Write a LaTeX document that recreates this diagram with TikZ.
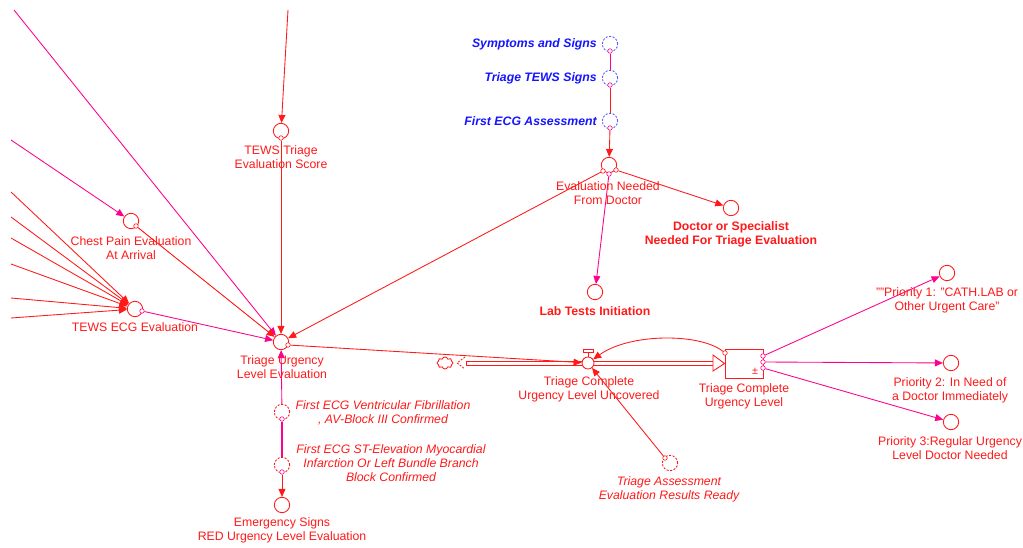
\documentclass[tikz,border=0pt]{standalone}
\usepackage{fontspec}
\setmainfont{Liberation Sans}
\usetikzlibrary{arrows.meta,shapes.symbols,calc}
\definecolor{vred}{RGB}{255,25,25}
\definecolor{vpink}{RGB}{255,0,140}
\definecolor{vblue}{RGB}{20,20,255}
\definecolor{vbluedash}{RGB}{90,90,255}

\begin{document}
\begin{tikzpicture}[x=0.75pt,y=-0.75pt,
  var/.style={circle,draw=vred,fill=white,minimum size=11.5pt,inner sep=0pt,line width=0.65pt},
  ghost/.style={var,dash pattern=on 1.6pt off 1.1pt},
  bghost/.style={ghost,draw=vbluedash},
  dot/.style={circle,draw=vred,fill=white,minimum size=3.4pt,inner sep=0pt,line width=0.45pt},
  pdot/.style={dot,draw=vpink},
  lbl/.style={text=vred,font=\fontsize{9.2}{10.5}\selectfont,align=center,inner sep=0pt},
  blbl/.style={lbl,font=\fontsize{9.2}{10.5}\selectfont\bfseries},
  ilbl/.style={lbl,font=\fontsize{9.2}{10.5}\selectfont\itshape},
  bluelbl/.style={lbl,text=vblue,font=\fontsize{9.2}{10.5}\selectfont\bfseries\itshape,anchor=east},
  tip/.style={-{Triangle[length=6pt,width=5.2pt]}},
  rlink/.style={draw=vred,line width=0.65pt,tip},
  plink/.style={draw=vpink,line width=0.65pt,tip},
  flowline/.style={draw=vred,line width=0.6pt},
]
\useasboundingbox (0,0) rectangle (1023,548);

% ---- variables ----
\node[var] (tews)  at (281,131) {};
\node[var] (chest) at (131,221) {};
\node[var] (ecg)   at (135,309) {};
\node[var] (urg)   at (281,342) {};
\node[var] (eval)  at (609,165) {};
\node[var] (doc)   at (731,208) {};
\node[var] (lab)   at (595,292) {};
\node[bghost] (symp) at (610,44) {};
\node[bghost] (tsig) at (610,78) {};
\node[bghost] (fecg) at (610,121) {};
\node[ghost] (vf)    at (282,412) {};
\node[ghost] (st)    at (282,465) {};
\node[var] (emerg)   at (282,505) {};
\node[ghost] (ready) at (670,463) {};
\node[var] (p1) at (947,273) {};
\node[var] (p2) at (951,363) {};
\node[var] (p3) at (951,422) {};

% ---- stock, valve and source cloud ----
\node[draw=vred,fill=white,minimum width=28.5pt,minimum height=21.75pt,inner sep=0pt,line width=0.65pt] (stock) at (744,363.5) {};
\node[text=vred,font=\fontsize{8}{8}\selectfont,inner sep=0pt] (pm) at (755,371) {±};
\node[cloud,cloud puffs=8,cloud ignores aspect,draw=vred,line width=0.65pt,minimum width=12pt,minimum height=9pt,inner sep=0pt] (src) at (445,363) {};
% flow pipe: two parallel lines from the cloud to the valve and on to the stock
\draw[flowline] (466,361) -- (583,361);
\draw[flowline] (466,365) -- (583,365);
\draw[flowline] (466,361) -- (466,365);
\draw[flowline] (593,361) -- (714,361);
\draw[flowline] (593,365) -- (714,365);
\node[circle,draw=vred,fill=white,minimum size=9pt,inner sep=0pt,line width=0.65pt] (valve) at (588,363) {};
\draw[vred,line width=0.65pt] (valve.north) -- (588,352);
\draw[vred,line width=0.65pt,fill=white] (583,349) rectangle (593,352);
\draw[vred,line width=0.65pt,fill=white] (713,355) -- (stock.west) -- (713,371) -- cycle;
\draw[vred,line width=0.6pt,dash pattern=on 1.5pt off 1pt] (465,357) -- (457,363) -- (465,369);

% ---- link start points ----
\node[dot]  (tewsO)  at (281,138) {};
\node[dot]  (chestO) at (136,226) {};
\node[pdot] (ecgO)   at (142,311) {};
\node[dot]  (urgO)   at (288,345) {};
\node[dot]  (evalL)  at (603,171) {};
\node[pdot] (evalB)  at (609,174) {};
\node[dot]  (evalR)  at (616,170) {};
\node[pdot] (sympO)  at (610,51) {};
\node[pdot] (tsigO)  at (610,85) {};
\node[pdot] (fecgO)  at (610,128) {};
\node[pdot] (vfO)    at (282,419) {};
\node[pdot] (stO)    at (282,472) {};
\node[dot]  (readyO) at (665,458) {};
\node[dot]  (sTL)    at (725,353) {};
\node[pdot] (sR1)    at (763,356) {};
\node[pdot] (sR2)    at (763,362) {};
\node[pdot] (sR3)    at (763,368) {};

% ---- incoming links from off the page ----
\coordinate (inTop) at (288,10);
\coordinate (inPA) at (14,10);
\coordinate (inPB) at (11,140);
\draw[rlink] (inTop) -- (tews);
\draw[plink] (inPA) -- (urg);
\draw[plink] (inPB) -- (chest);
\foreach \i/\y in {1/192,2/217,3/238,4/264,5/298,6/318}{
  \coordinate (e\i) at (11,\y);
  \draw[rlink] (e\i) -- (ecg);
}

% ---- links ----
\draw[rlink] (tewsO) -- (urg);
\draw[rlink] (chestO) -- (urg);
\draw[plink] (ecgO) -- (urg);
\draw[rlink] (evalL) -- (urg);
\draw[rlink] (urgO) -- (valve);
\draw[plink] (vf) -- (urg);
\draw[draw=vpink,line width=0.95pt] (vfO) -- (st);
\draw[rlink] (stO) -- (emerg);
\draw[draw=vpink,line width=0.65pt] (sympO) -- (tsig);
\draw[draw=vred,line width=0.65pt] (tsigO) -- (fecg);
\draw[rlink] (fecgO) -- (eval);
\draw[rlink] (evalR) -- (doc);
\draw[plink] (evalB) -- (lab);
\draw[rlink] (sTL) .. controls (700,333) and (630,333) .. (valve);
\draw[rlink] (readyO) -- (valve);
\draw[plink] (sR1) -- (p1);
\draw[plink] (sR2) -- (p2);
\draw[plink] (sR3) -- (p3);

% ---- labels ----
\node[lbl] (tewsL)  at (281,157) {TEWS Triage\\Evaluation Score};
\node[lbl] (chestL) at (131,248) {Chest Pain Evaluation\\At Arrival};
\node[lbl] (ecgL)   at (135,327.5) {TEWS ECG Evaluation};
\node[lbl] (urgL)   at (282,367) {Triage Urgency\\Level Evaluation};
\node[lbl] (evalT)  at (608,193.5) {Evaluation Needed\\From Doctor};
\node[blbl] (docL)  at (731,234) {Doctor or Specialist\\Needed For Triage Evaluation};
\node[blbl] (labL)  at (595,311) {Lab Tests Initiation};
\node[lbl] (flowL)  at (589,389.5) {Triage Complete\\Urgency Level Uncovered};
\node[lbl] (stockL) at (744,396) {Triage Complete\\Urgency Level};
\node[lbl] (p1L)    at (947,300) {""Priority 1: "CATH.LAB or\\Other Urgent Care"};
\node[lbl] (p2L)    at (950,390) {Priority 2: In Need of\\a Doctor Immediately};
\node[lbl] (p3L)    at (950,448) {Priority 3:Regular Urgency\\Level Doctor Needed};
\node[ilbl] (readyL) at (669,489.5) {Triage Assessment\\Evaluation Results Ready};
\node[lbl] (emergL) at (282,530.5) {Emergency Signs\\RED Urgency Level Evaluation};
\node[ilbl] (vfL)   at (383,412.5) {First ECG Ventricular Fibrillation\\, AV-Block III Confirmed};
\node[ilbl] (stL)   at (391,463.5) {First ECG ST-Elevation Myocardial\\Infarction Or Left Bundle Branch\\Block Confirmed};
\node[bluelbl] (sympL) at (597,44) {Symptoms and Signs};
\node[bluelbl] (tsigL) at (597,78) {Triage TEWS Signs};
\node[bluelbl] (fecgL) at (597,121) {First ECG Assessment};
\end{tikzpicture}
\end{document}
